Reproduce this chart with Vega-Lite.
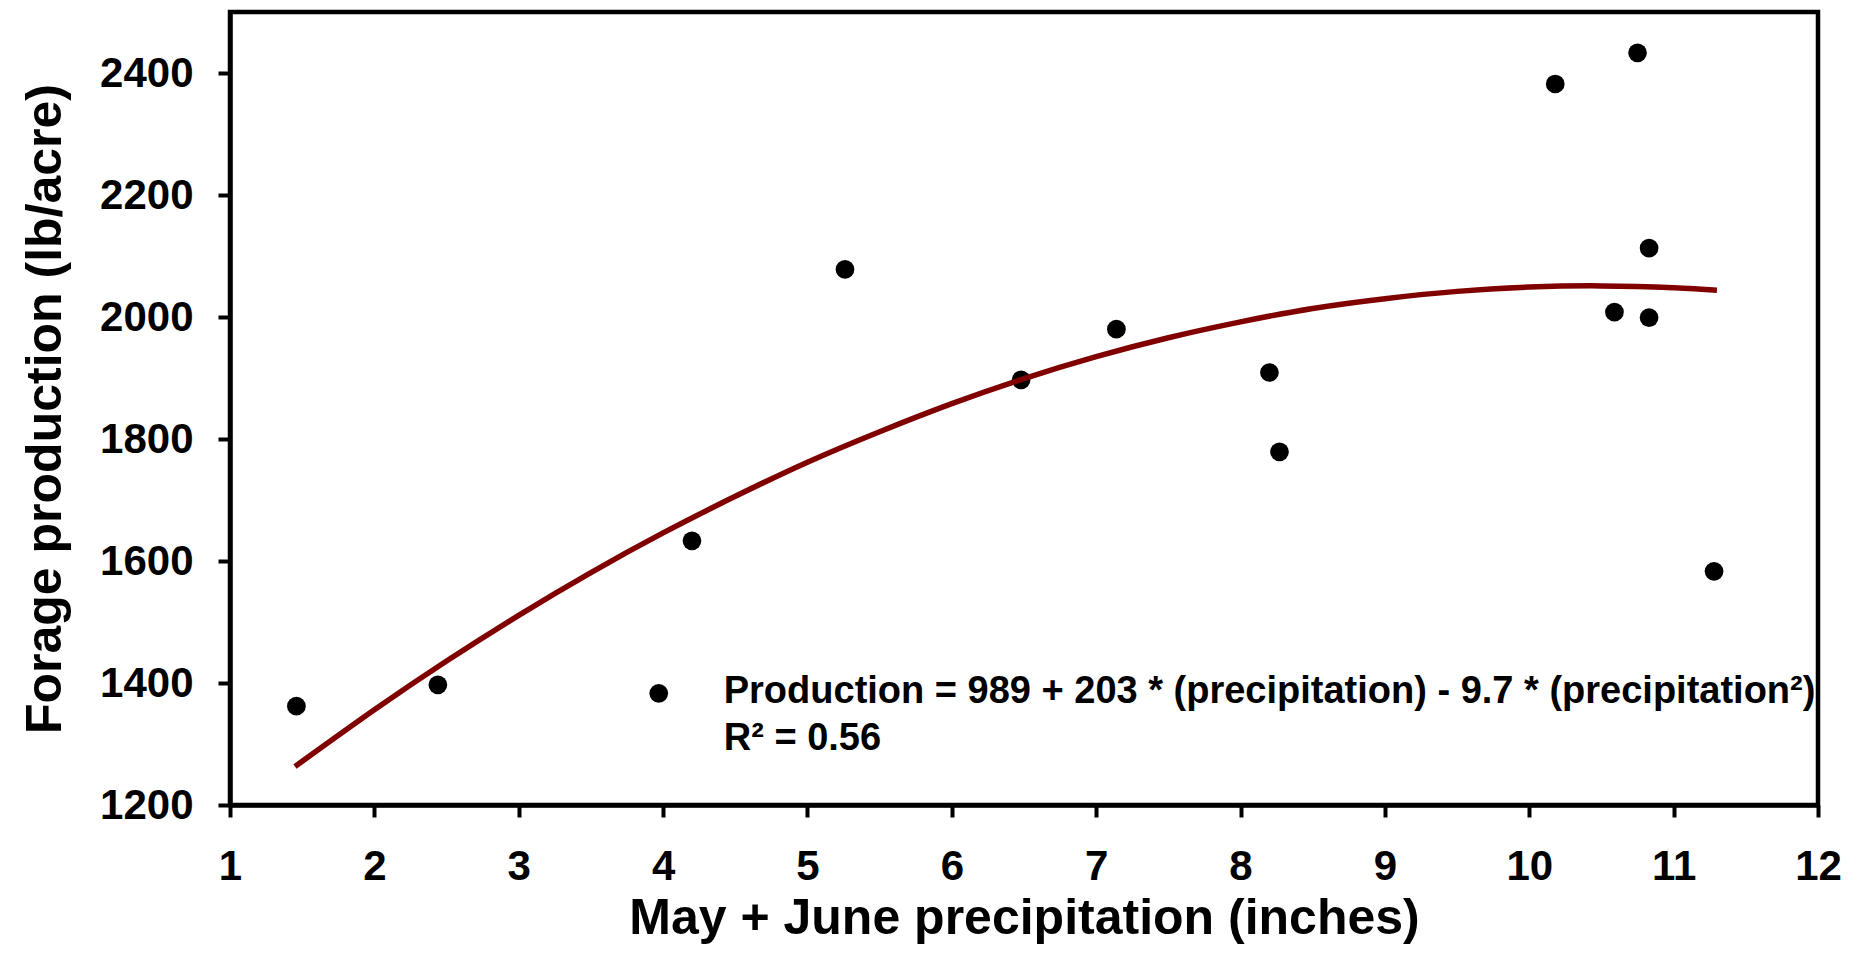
{
  "$schema": "https://vega.github.io/schema/vega-lite/v6.json",
  "autosize": {"type": "none"},
  "padding": {"left": 230, "top": 12, "right": 45, "bottom": 171},
  "width": 1588,
  "height": 793,
  "background": "white",
  "config": {
    "font": "Liberation Sans",
    "view": {"stroke": "black", "strokeWidth": 4.5},
    "axis": {
      "grid": false,
      "domainColor": "black",
      "domainWidth": 4.5,
      "tickColor": "black",
      "tickWidth": 4,
      "tickSize": 12,
      "labelColor": "black",
      "labelFont": "Liberation Sans",
      "labelFontSize": 42,
      "labelFontWeight": "bold",
      "labelOverlap": false,
      "labelFlush": false,
      "titleColor": "black",
      "titleFont": "Liberation Sans",
      "titleFontSize": 50,
      "titleFontWeight": "bold"
    }
  },
  "datasets": {
    "obs": [
      {"precip": 1.46, "production": 1362},
      {"precip": 2.44, "production": 1397},
      {"precip": 4.20, "production": 1633},
      {"precip": 5.26, "production": 2078},
      {"precip": 6.48, "production": 1897},
      {"precip": 7.14, "production": 1980},
      {"precip": 8.20, "production": 1909},
      {"precip": 8.27, "production": 1779},
      {"precip": 10.18, "production": 2382},
      {"precip": 10.59, "production": 2008},
      {"precip": 10.75, "production": 2433},
      {"precip": 10.83, "production": 2113},
      {"precip": 10.83, "production": 1999},
      {"precip": 11.28, "production": 1583}
    ],
    "fit": [
      {"precip": 1.45, "production": 1263},
      {"precip": 2.0, "production": 1356},
      {"precip": 2.5, "production": 1436},
      {"precip": 3.0, "production": 1511},
      {"precip": 3.5, "production": 1581},
      {"precip": 4.0, "production": 1646},
      {"precip": 4.5, "production": 1706},
      {"precip": 5.0, "production": 1762},
      {"precip": 5.5, "production": 1812},
      {"precip": 6.0, "production": 1858},
      {"precip": 6.5, "production": 1899},
      {"precip": 7.0, "production": 1935},
      {"precip": 7.5, "production": 1966},
      {"precip": 8.0, "production": 1992},
      {"precip": 8.5, "production": 2014},
      {"precip": 9.0, "production": 2030},
      {"precip": 9.5, "production": 2042},
      {"precip": 10.0, "production": 2049},
      {"precip": 10.5, "production": 2051},
      {"precip": 11.0, "production": 2048},
      {"precip": 11.3, "production": 2044}
    ],
    "key": [
      {"precip": 3.97, "production": 1383}
    ],
    "note": [
      {"precip": 4.42, "production": 1386, "label": "Production = 989 + 203 * (precipitation) - 9.7 * (precipitation²)"},
      {"precip": 4.42, "production": 1309, "label": "R² = 0.56"}
    ]
  },
  "encoding": {
    "x": {
      "field": "precip",
      "type": "quantitative",
      "scale": {"domain": [1, 12], "nice": false, "zero": false},
      "axis": {
        "title": "May + June precipitation (inches)",
        "values": [1, 2, 3, 4, 5, 6, 7, 8, 9, 10, 11, 12],
        "format": "d",
        "labelPadding": 29,
        "titlePadding": 6
      }
    },
    "y": {
      "field": "production",
      "type": "quantitative",
      "scale": {"domain": [1200, 2500], "nice": false, "zero": false},
      "axis": {
        "title": "Forage production (lb/acre)",
        "values": [1200, 1400, 1600, 1800, 2000, 2200, 2400],
        "format": "d",
        "labelPadding": 25,
        "titlePadding": 29
      }
    }
  },
  "layer": [
    {
      "data": {"name": "obs"},
      "mark": {"type": "point", "shape": "circle", "filled": true, "size": 350, "color": "black", "opacity": 1}
    },
    {
      "data": {"name": "fit"},
      "mark": {"type": "line", "color": "#800000", "strokeWidth": 5.5, "interpolate": "natural"}
    },
    {
      "data": {"name": "key"},
      "mark": {"type": "point", "shape": "circle", "filled": true, "size": 350, "color": "black", "opacity": 1}
    },
    {
      "data": {"name": "note"},
      "mark": {"type": "text", "align": "left", "baseline": "middle", "fontSize": 38, "fontWeight": "bold", "font": "Liberation Sans", "color": "black"},
      "encoding": {"text": {"field": "label"}}
    }
  ]
}
